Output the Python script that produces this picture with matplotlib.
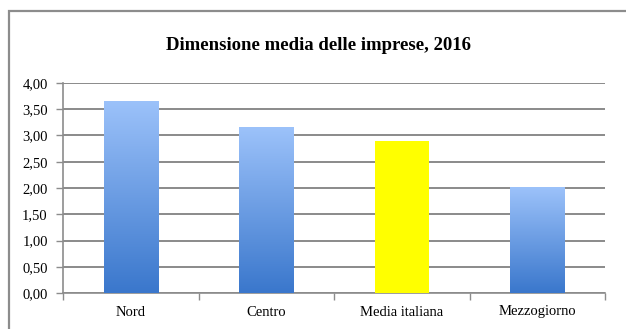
import numpy as np
import matplotlib
matplotlib.use("Agg")
import matplotlib.pyplot as plt
from matplotlib.patches import Rectangle
from matplotlib.ticker import FuncFormatter, FixedLocator
from matplotlib.colors import LinearSegmentedColormap

categories = ["Nord", "Centro", "Media italiana", "Mezzogiorno"]
values = [3.66, 3.16, 2.89, 2.01]
highlight = "Media italiana"
yticks = [0.0, 0.5, 1.0, 1.5, 2.0, 2.5, 3.0, 3.5, 4.0]
title = "Dimensione media delle imprese, 2016"

W, H = 626, 329
fig = plt.figure(figsize=(W / 100, H / 100), dpi=100)
fig.patch.set_facecolor("white")
plt.rcParams["font.family"] = ["Liberation Serif", "DejaVu Serif"]

# outer chart frame
fig.add_artist(Rectangle((9 / W, -0.1), 1.2, (H - 11) / H + 0.1, transform=fig.transFigure,
                         fill=False, edgecolor="#8c8c8c", linewidth=1.6))

ax = fig.add_axes([63 / W, (H - 293) / H, (605 - 63) / W, (293 - 83) / H])
x = np.arange(len(categories))
bars = ax.bar(x, values, width=0.4, color="none", edgecolor="none", zorder=3)

grad_cmap = LinearSegmentedColormap.from_list("g", ["#3a77cc", "#9cc2fa"])
grad = np.linspace(0, 1, 256).reshape(-1, 1)
for cat, b in zip(categories, bars):
    x0, w, h = b.get_x(), b.get_width(), b.get_height()
    if cat == highlight:
        b.set_facecolor("#ffff00")
    else:
        im = ax.imshow(grad, extent=(x0, x0 + w, 0, h), origin="lower", aspect="auto",
                       cmap=grad_cmap, zorder=3)
        im.set_clip_path(b)

ax.set_xlim(-0.5, len(categories) - 0.5)
ax.set_ylim(0, 4)
ax.yaxis.set_major_locator(FixedLocator(yticks))
ax.yaxis.set_major_formatter(FuncFormatter(lambda v, p: f"{v:.2f}".replace(".", ",")))
ax.set_xticks(x)
ax.set_xticklabels(categories)
ax.set_xticks(np.arange(-0.5, len(categories)), minor=True)
ax.tick_params(axis="x", which="major", length=0, pad=9, labelsize=10.5)
ax.tick_params(axis="x", which="minor", length=5, color="#8c8c8c", width=1)
ax.tick_params(axis="y", length=5, color="#8c8c8c", width=1, labelsize=10.5, pad=6)
ax.grid(axis="y", color="#8a8a8a", linewidth=1.4, zorder=1)
ax.set_axisbelow(True)
for s in ["top", "right"]:
    ax.spines[s].set_visible(False)
for s in ["left", "bottom"]:
    ax.spines[s].set_color("#8c8c8c")
    ax.spines[s].set_linewidth(1.2)

fig.text(319 / W, 1 - 45 / H, title, ha="center", va="center", fontsize=13.5, fontweight="bold")

fig.savefig("out.png", dpi=100)
